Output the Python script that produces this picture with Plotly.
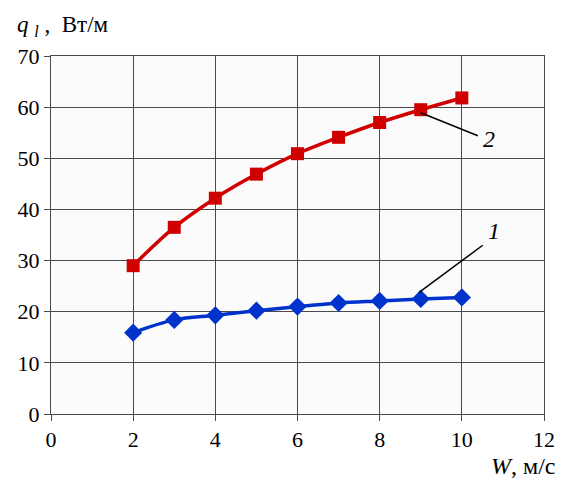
import plotly.graph_objects as go

# Air velocity, m/s
w = [2, 3, 4, 5, 6, 7, 8, 9, 10]
# Linear heat flux, W/m
q1 = [15.9, 18.4, 19.3, 20.2, 21.0, 21.7, 22.1, 22.5, 22.8]
q2 = [29.0, 36.5, 42.2, 46.9, 50.9, 54.1, 57.0, 59.5, 61.8]

x_ticks = [0, 2, 4, 6, 8, 10, 12]
y_ticks = [0, 10, 20, 30, 40, 50, 60, 70]

font_family = "Liberation Serif"

fig = go.Figure()
fig.add_trace(go.Scatter(
    x=w, y=q2, mode="lines+markers",
    line=dict(color="#D00000", width=3.5, shape="spline"),
    marker=dict(symbol="square", size=13, color="#D00000"),
    showlegend=False,
))
fig.add_trace(go.Scatter(
    x=w, y=q1, mode="lines+markers",
    line=dict(color="#0033CC", width=3.5, shape="spline"),
    marker=dict(symbol="diamond", size=14, color="#0033CC"),
    showlegend=False,
))

# Curve labels with leader lines
fig.add_shape(type="line", x0=9.0, y0=58.9, x1=10.39, y1=54.4,
              line=dict(color="black", width=1.5))
fig.add_annotation(x=10.66, y=53.8, text="<i>2</i>", showarrow=False,
                   font=dict(family=font_family, size=24, color="black"))
fig.add_shape(type="line", x0=8.96, y0=23.8, x1=10.51, y1=33.0,
              line=dict(color="black", width=1.5))
fig.add_annotation(x=10.78, y=35.8, text="<i>1</i>", showarrow=False,
                   font=dict(family=font_family, size=24, color="black"))

# Axis titles
fig.add_annotation(xref="paper", yref="paper", x=-0.074, y=1.085,
                   xanchor="left", yanchor="middle", showarrow=False,
                   text="<i>q</i>&nbsp;<sub><i>l</i></sub>&nbsp;,&nbsp; Вт/м",
                   font=dict(family=font_family, size=23, color="black"))
fig.add_annotation(xref="paper", yref="paper", x=1.028, y=-0.146,
                   xanchor="right", yanchor="middle", showarrow=False,
                   text="<i>W</i>, м/с",
                   font=dict(family=font_family, size=24, color="black"))

axis_common = dict(
    showgrid=True, gridcolor="#4a4a4a", gridwidth=1,
    showline=True, linecolor="#4a4a4a", linewidth=1,
    ticks="outside", ticklen=6, tickcolor="#4a4a4a",
    zeroline=False,
    tickfont=dict(family=font_family, size=22, color="black"),
)

fig.update_xaxes(range=[0, 12], tickvals=x_ticks, mirror=True, **axis_common)
fig.update_yaxes(range=[0, 70], tickvals=y_ticks, mirror=True, **axis_common)

fig.update_layout(
    width=567, height=480,
    margin=dict(l=51, r=18, t=56, b=66),
    paper_bgcolor="white",
    plot_bgcolor="#FBFBFB",
    font=dict(family=font_family),
)

fig.write_html("out.html")
